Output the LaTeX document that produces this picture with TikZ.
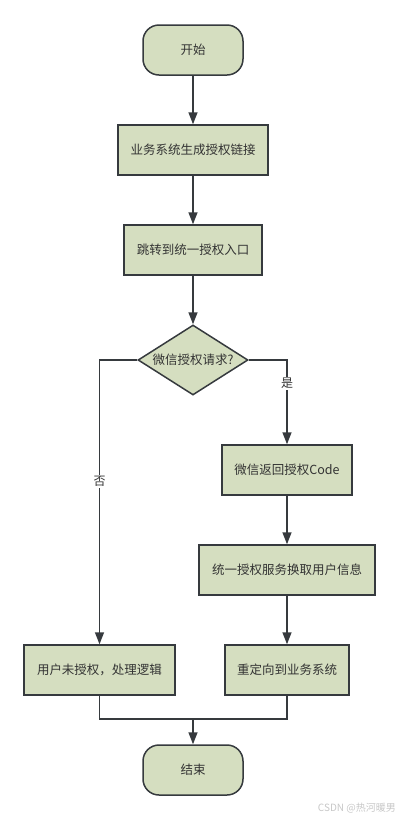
\documentclass[tikz,border=0pt]{standalone}
\usepackage{fontspec}
\setmainfont{Noto Sans CJK SC}
\usetikzlibrary{arrows.meta,shapes.geometric,positioning}
\definecolor{boxfill}{HTML}{D5DEC0}
\definecolor{boxline}{HTML}{363A3E}
\definecolor{txt}{HTML}{333333}
\tikzset{
  base/.style={draw=boxline,fill=boxfill,line width=1.5pt,inner sep=0pt,text=txt,font=\fontsize{12.5}{14}\selectfont},
  procbox/.style={base,rectangle,minimum height=50pt},
  termbox/.style={base,rectangle,rounded corners=16pt,minimum width=100pt,minimum height=50pt},
  decbox/.style={base,diamond,aspect=1.57,minimum width=110pt,minimum height=70pt},
  conn/.style={draw=boxline,line width=1.5pt},
  arr/.style={conn,-{Triangle[length=12pt,width=9pt]}},
  lbl/.style={fill=white,inner sep=1.5pt,text=txt,font=\fontsize{12}{14}\selectfont}
}
\begin{document}
\begin{tikzpicture}[x=1pt,y=-1pt]
\useasboundingbox (0,0) rectangle (400,820);
\node[termbox] (start) at (193,50) {开始};
\node[procbox,minimum width=150pt] (b1) at (193,150) {业务系统生成授权链接};
\node[procbox,minimum width=138pt] (b2) at (193,250) {跳转到统一授权入口};
\node[decbox] (dia) at (193,360) {微信授权请求?};
\node[procbox,minimum width=130pt] (b3) at (287,470) {微信返回授权Code};
\node[procbox,minimum width=176pt] (b4) at (287,570) {统一授权服务换取用户信息};
\node[procbox,minimum width=124pt] (b5) at (287,670) {重定向到业务系统};
\node[procbox,minimum width=151pt] (b6) at (99.5,670) {用户未授权，处理逻辑};
\node[termbox] (end) at (193,770) {结束};
\coordinate (m) at (193,719);

\draw[arr] (start.south) -- (b1.north);
\draw[arr] (b1.south) -- (b2.north);
\draw[arr] (b2.south) -- (dia.north);
\draw[arr] (dia.east) -| (b3.north) node[lbl,pos=0.64] {是};
\draw[arr] (dia.west) -| (b6.north) node[lbl,pos=0.714] {否};
\draw[arr] (b3.south) -- (b4.north);
\draw[arr] (b4.south) -- (b5.north);
\draw[conn] (b6.south) |- (m) -| (b5.south);
\draw[arr] (m) -- (end.north);

\node[anchor=east,text=black!22,font=\fontsize{10}{12}\selectfont,inner sep=0pt] (wm) at (396,808) {CSDN @热河暖男};
\end{tikzpicture}
\end{document}
